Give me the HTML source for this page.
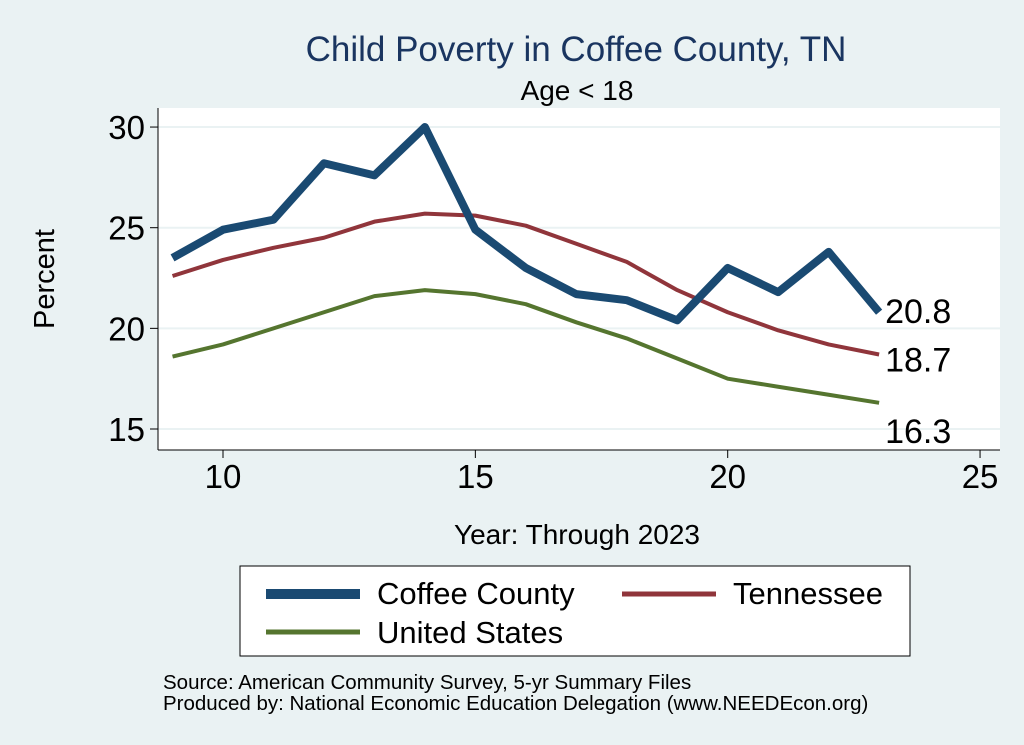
<!DOCTYPE html>
<html><head><meta charset="utf-8"><style>
body{margin:0;background:#eaf2f3;font-family:"Liberation Sans",sans-serif}
svg{display:block}
</style></head><body>
<svg id="chart" width="1024" height="745" xmlns="http://www.w3.org/2000/svg">
<rect width="1024" height="745" fill="#eaf2f3"/>
<text x="576" y="61" text-anchor="middle" font-size="35" fill="#1a3560">Child Poverty in Coffee County, TN</text>
<text x="577" y="100" text-anchor="middle" font-size="28" fill="#000">Age &lt; 18</text>
<rect x="158" y="108" width="842" height="342" fill="#fff"/>
<g id="grid"></g><g id="axes"></g><g id="series"></g>
<text x="54" y="279" text-anchor="middle" font-size="29" transform="rotate(-90 54 279)">Percent</text>
<text x="577" y="544" text-anchor="middle" font-size="28">Year: Through 2023</text>
<g>
<rect x="240" y="566" width="670" height="90" fill="#fff" stroke="#000" stroke-width="1"/>
<line x1="266" y1="594" x2="360" y2="594" stroke="#1a4a72" stroke-width="10"/>
<text x="377" y="604" font-size="31">Coffee County</text>
<line x1="622" y1="594" x2="716" y2="594" stroke="#90353b" stroke-width="5"/>
<text x="733" y="604" font-size="31">Tennessee</text>
<line x1="266" y1="632" x2="360" y2="632" stroke="#55752f" stroke-width="5"/>
<text x="377" y="643" font-size="31">United States</text>
</g>
<text x="163" y="689" font-size="20.5">Source: American Community Survey, 5-yr Summary Files</text>
<text x="163" y="710" font-size="20.5">Produced by: National Economic Education Delegation (www.NEEDEcon.org)</text>
</svg>
<script>
const years=[9,10,11,12,13,14,15,16,17,18,19,20,21,22,23];
const coffee=[23.5,24.9,25.4,28.2,27.6,30.0,24.9,23.0,21.7,21.4,20.4,23.0,21.8,23.8,20.8];
const tennessee=[22.6,23.4,24.0,24.5,25.3,25.7,25.6,25.1,24.2,23.3,21.9,20.8,19.9,19.2,18.7];
const usa=[18.6,19.2,20.0,20.8,21.6,21.9,21.7,21.2,20.3,19.5,18.5,17.5,17.1,16.7,16.3];
const xTicks=[10,15,20,25];
const yTicks=[15,20,25,30];
const NS="http://www.w3.org/2000/svg";
const sx=v=>223+(v-10)*50.47;
const sy=v=>429-(v-15)*20.13;
function mk(tag,attrs,parent){const e=document.createElementNS(NS,tag);for(const k in attrs)e.setAttribute(k,attrs[k]);parent.appendChild(e);return e;}
const grid=document.getElementById('grid'),axes=document.getElementById('axes'),ser=document.getElementById('series');
yTicks.forEach(t=>{
 const g=mk('line',{x1:158,x2:1000,y1:sy(t),y2:sy(t),stroke:'#eaf2f3','stroke-width':2},grid);
 
 
 const tk=mk('line',{x1:150,x2:158,y1:sy(t),y2:sy(t),stroke:'#000'},axes);
 
 
 const l=mk('text',{x:145,y:sy(t)+12,'text-anchor':'end','font-size':33},axes);l.textContent=t;
 
 
});
xTicks.forEach(t=>{
 const tk=mk('line',{x1:sx(t),x2:sx(t),y1:450,y2:458,stroke:'#000'},axes);
 
 
 const l=mk('text',{x:sx(t),y:488,'text-anchor':'middle','font-size':33},axes);l.textContent=t;
 
 
});
const ya=mk('line',{x1:158,x2:158,y1:108,y2:450,stroke:'#000'},axes);


const xa=mk('line',{x1:158,x2:1000,y1:450,y2:450,stroke:'#000'},axes);


function line(vals,color,w,name,dy){
 const p=mk('polyline',{points:vals.map((v,i)=>sx(years[i])+','+sy(v)).join(' '),fill:'none',stroke:color,'stroke-width':w,'stroke-linejoin':'round'},ser);
 
 
 const last=vals[vals.length-1];
 const t=mk('text',{x:sx(years[years.length-1])+6,y:sy(last)+dy,'font-size':34},ser);t.textContent=last.toFixed(1);
 
 
}
line(usa,'#55752f',4,'us-line',40);
line(tennessee,'#90353b',4,'tennessee-line',17);
line(coffee,'#1a4a72',8,'coffee-line',11);
</script>
</body></html>
